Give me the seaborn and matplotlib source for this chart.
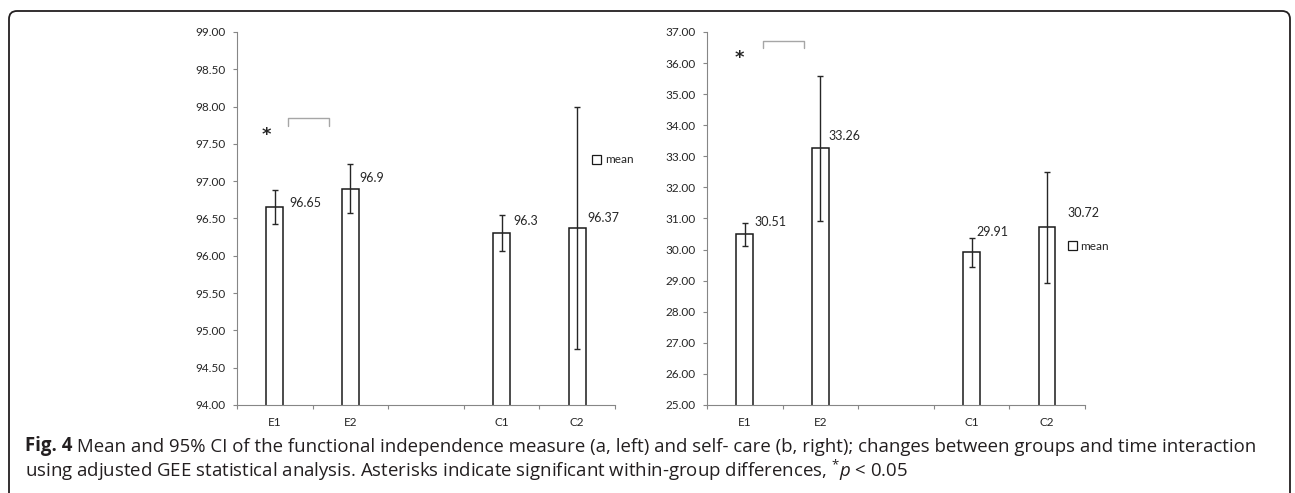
import matplotlib
matplotlib.use("Agg")
import matplotlib.pyplot as plt
from matplotlib.patches import Patch, FancyBboxPatch
from matplotlib.transforms import IdentityTransform
from matplotlib.ticker import MultipleLocator, FixedLocator, FormatStrFormatter
import seaborn as sns
import pandas as pd

# categories (blank slot between the groups)
groups = ["E1", "E2", "C1", "C2"]
slots = ["E1", "E2", " ", "C1", "C2"]

# (a) functional independence measure: mean and 95% CI
fim_mean = [96.65, 96.9, 96.3, 96.37]
fim_lower = [96.42, 96.57, 96.06, 94.75]
fim_upper = [96.88, 97.23, 96.55, 97.99]

# (b) self-care: mean and 95% CI
care_mean = [30.51, 33.26, 29.91, 30.72]
care_lower = [30.13, 30.93, 29.45, 28.91]
care_upper = [30.87, 35.58, 30.38, 32.50]

sns.set_theme(style="ticks")
plt.rcParams["font.family"] = ["Lato", "DejaVu Sans"]
plt.rcParams["mathtext.fontset"] = "custom"
plt.rcParams["mathtext.rm"] = "Open Sans"
plt.rcParams["mathtext.it"] = "Open Sans:italic"

AXIS_GREY = "#868686"
BAR_W = 0.22


def draw_panel(ax, means, lower, upper, ylim, step, label_offsets, legend_xy, star_xy, bracket):
    df = pd.DataFrame({"group": groups, "mean": means})
    sns.barplot(data=df, x="group", y="mean", order=slots, width=BAR_W, color="white",
                saturation=1, edgecolor="#1a1a1a", linewidth=1.1, errorbar=None, ax=ax)
    xpos = [slots.index(g) for g in groups]
    yerr = [[m - lo for m, lo in zip(means, lower)],
            [hi - m for m, hi in zip(means, upper)]]
    ax.errorbar(xpos, means, yerr=yerr, fmt="none", ecolor="#262626",
                elinewidth=1, capsize=2.5, capthick=1)

    # value labels next to the bar tops
    for x, m, (dx, dy) in zip(xpos, means, label_offsets):
        ax.annotate(f"{m:g}", xy=(x + BAR_W / 2, m), xytext=(dx, dy),
                    textcoords="offset pixels", ha="left", va="center",
                    fontsize=9, color="#262626")

    ax.set_ylim(*ylim)
    ax.set_xlim(-0.5, len(slots) - 0.5)
    ax.yaxis.set_major_locator(MultipleLocator(step))
    ax.yaxis.set_major_formatter(FormatStrFormatter("%.2f"))
    ax.xaxis.set_minor_locator(FixedLocator([i - 0.5 for i in range(len(slots) + 1)]))
    ax.tick_params(axis="y", length=3, width=0.8, color=AXIS_GREY, labelsize=8.5,
                   labelcolor="#262626", pad=5)
    ax.tick_params(axis="x", which="major", length=0, labelsize=8.5,
                   labelcolor="#262626", pad=9)
    ax.tick_params(axis="x", which="minor", length=3, width=0.8, color=AXIS_GREY)
    ax.set_xlabel("")
    ax.set_ylabel("")
    sns.despine(ax=ax)
    for side in ["left", "bottom"]:
        ax.spines[side].set_color(AXIS_GREY)
        ax.spines[side].set_linewidth(0.8)

    # legend
    handle = Patch(facecolor="white", edgecolor="#1a1a1a", linewidth=0.9, label="mean")
    ax.legend(handles=[handle], loc="center left", bbox_to_anchor=legend_xy,
              frameon=False, fontsize=8.5, handlelength=0.75, handleheight=0.75,
              handletextpad=0.3, borderpad=0, borderaxespad=0)

    # significance marker
    ax.text(star_xy[0], star_xy[1], "*", transform=ax.transAxes, ha="center",
            va="center", fontsize=13, fontweight="bold", family="DejaVu Sans",
            color="#262626")
    x0, x1, ytop, ybot = bracket
    ax.plot([x0, x0, x1, x1], [ybot, ytop, ytop, ybot], transform=ax.transAxes,
            color="#a6a6a6", lw=1, clip_on=False)


fig = plt.figure(figsize=(12.95, 4.93), dpi=100)
ax1 = fig.add_axes([0.1830, 0.1785, 0.2919, 0.7566])
ax2 = fig.add_axes([0.5459, 0.1785, 0.2919, 0.7566])

draw_panel(ax1, fim_mean, fim_lower, fim_upper, (94, 99), 0.5,
           [(6, 4), (1, 11), (3, 12), (2, 10)], (0.94, 0.657),
           (0.077, 0.725), (0.135, 0.243, 0.769, 0.748))
draw_panel(ax2, care_mean, care_lower, care_upper, (25, 37), 1,
           [(1, 12), (0, 12), (-3, 20), (12, 14)], (0.955, 0.426),
           (0.085, 0.93), (0.148, 0.257, 0.976, 0.957))

# frame around the figure (open at the bottom)
frame = FancyBboxPatch((9, -30), 1281, 482 + 30, boxstyle="round,pad=0,rounding_size=8",
                       transform=IdentityTransform(), facecolor="none",
                       edgecolor="#231f20", linewidth=1.3)
fig.add_artist(frame)

# caption
cap_size = 12
cap_font = ["Open Sans", "DejaVu Sans"]
t1 = fig.text(25 / 1295, 1 - 451 / 493, "Fig. 4", fontsize=cap_size, fontweight="bold",
              family=cap_font, color="#231f20", va="baseline")
t1b = ax1.annotate(" Mean and 95% CI of the functional independence measure (a, left) and "
                   "self- care (b, right); changes between groups and time interaction",
                   xy=(1, 0), xycoords=t1, va="bottom", ha="left", fontsize=cap_size,
                   family=cap_font, color="#231f20", annotation_clip=False)
t2 = fig.text(25 / 1295, 1 - 477 / 493,
              "using adjusted GEE statistical analysis. Asterisks indicate significant "
              r"within-group differences, $^{*}p$ < 0.05",
              fontsize=cap_size, family=cap_font, color="#231f20", va="baseline")

# fit caption line width to the reference
fig.canvas.draw()
r = fig.canvas.get_renderer()
w = t1b.get_window_extent(r).x1 - t1.get_window_extent(r).x0
scale = 1230 / w
for t in (t1, t1b, t2):
    t.set_fontsize(cap_size * scale)

fig.savefig("out.png", dpi=100)
